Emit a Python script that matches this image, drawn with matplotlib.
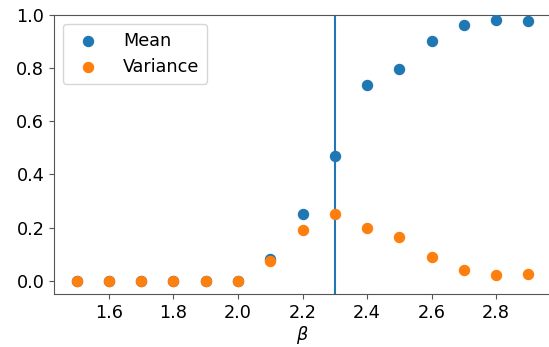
import matplotlib
matplotlib.use("Agg")
import matplotlib.pyplot as plt

beta = [1.5, 1.6, 1.7, 1.8, 1.9, 2.0, 2.1, 2.2, 2.3, 2.4, 2.5, 2.6, 2.7, 2.8, 2.9]
mean = [0.0, 0.0, 0.0, 0.0, 0.0, 0.0, 0.083, 0.252, 0.471, 0.736, 0.796, 0.901, 0.961, 0.980, 0.976]
variance = [0.0, 0.0, 0.0, 0.0, 0.0, 0.0, 0.075, 0.189, 0.252, 0.197, 0.164, 0.091, 0.041, 0.021, 0.026]
critical_beta = 2.3

plt.rcParams['font.size'] = 12.7

fig = plt.figure(figsize=(5.49, 3.47), dpi=100)
W, H = 549, 347
ax = fig.add_axes([54 / W, (H - 294) / H, 497 / W, 279 / H])

ax.scatter(beta, mean, s=52, color='C0', label='Mean', zorder=3)
ax.scatter(beta, variance, s=52, color='C1', label='Variance', zorder=3)
ax.axvline(critical_beta, color='C0', lw=1.5)

ax.set_xlim(1.43, 2.97)
ax.set_ylim(-0.05, 1.0)
ax.set_xticks([1.6, 1.8, 2.0, 2.2, 2.4, 2.6, 2.8])
ax.set_yticks([0.0, 0.2, 0.4, 0.6, 0.8, 1.0])
ax.set_xlabel(r'$\beta$', labelpad=2)

for sp in ax.spines.values():
    sp.set_color('#555555')
ax.spines['right'].set_visible(False)
ax.tick_params(color='#555555')

ax.legend(loc='upper left', handletextpad=0.95, borderpad=0.45, labelspacing=0.45)

fig.savefig('out.png', dpi=100)
